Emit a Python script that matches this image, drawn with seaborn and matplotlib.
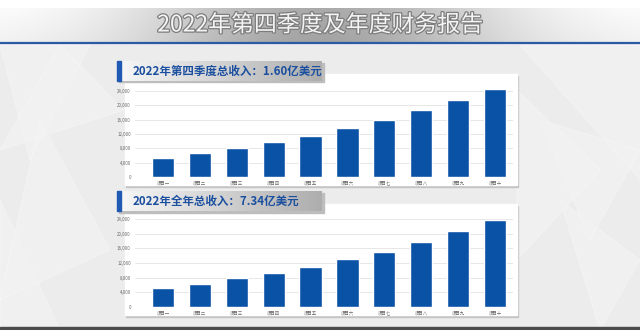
import numpy as np
import matplotlib
matplotlib.use("Agg")
import matplotlib.pyplot as plt
import matplotlib.patheffects as pe
from matplotlib.patches import Rectangle, Polygon
import seaborn as sns

# ---------------- data ----------------
main_title = "2022年第四季度及年度财务报告"
q4_title = "2022年第四季度总收入：1.60亿美元"
year_title = "2022年全年总收入：7.34亿美元"
categories = ["项目一", "项目二", "项目三", "项目四", "项目五",
              "项目六", "项目七", "项目八", "项目九", "项目十"]
q4_values = [5300, 6700, 8200, 9700, 11500, 13700, 15800, 18600, 21400, 24650]
year_values = [5030, 6320, 7780, 9150, 10890, 13000, 15100, 17670, 20690, 23710]
y_ticks = [0, 4000, 8000, 12000, 16000, 20000, 24000]

BAR = "#0a52a6"
W, H = 640, 330

sns.set_style("white")
plt.rcParams["font.family"] = ["Noto Sans CJK SC", "DejaVu Sans"]

fig = plt.figure(figsize=(W / 100, H / 100), dpi=100)
bg = fig.add_axes([0, 0, 1, 1])
bg.set_xlim(0, W)
bg.set_ylim(H, 0)
bg.axis("off")
bg.set_zorder(0)

# background
bg.add_patch(Rectangle((0, 0), W, H, color="#ececec", zorder=0))
tris = [
    [(0, 45), (90, 45), (30, 160)], [(520, 45), (640, 45), (640, 180)],
    [(0, 200), (60, 330), (0, 330)], [(560, 200), (640, 260), (600, 330)],
    [(40, 120), (110, 250), (0, 300)], [(540, 120), (640, 150), (590, 240)],
    [(60, 45), (124, 110), (0, 150)], [(517, 90), (600, 170), (517, 260)],
]
for t in tris:
    bg.add_patch(Polygon(t, closed=True, facecolor="#f3f3f3", edgecolor="#fafafa",
                         lw=0.5, alpha=0.6, zorder=1))

# header band
bg.add_patch(Rectangle((0, 0), W, 8, color="white", zorder=2))
xs = np.linspace(0, 1, 400)
prof = 1 - 0.33 * np.exp(-((xs - 0.5) / 0.28) ** 2)
ys = np.linspace(0, 1, 40)[:, None]
grad = prof[None, :] * (1 - 0.04 * ys)
bg.imshow(np.dstack([grad, grad, grad]), extent=(0, W, 42, 8), aspect="auto",
          zorder=2, interpolation="bilinear")
bg.plot([0, W], [42.8, 42.8], color="#2a5aa3", lw=1.6, zorder=3)
bg.text(W / 2, 25, main_title, ha="center", va="center", fontsize=16.5,
        color="#f4f4f4", zorder=4,
        path_effects=[pe.withStroke(linewidth=1.8, foreground="#7d7d7d")])
bg.add_patch(Rectangle((0, 326.5), W, 4, color="#4b4b4b", zorder=3))

# panels and label boxes
def panel(top, bottom):
    bg.add_patch(Rectangle((125.5, top + 1.5), 392, bottom - top, color="#c4c4c4", zorder=3))
    bg.add_patch(Rectangle((124.5, top), 392, bottom - top, color="white", zorder=4))

def label_box(top, bottom, text):
    bg.add_patch(Rectangle((118.5, top + 1.5), 205, bottom - top, color="#bdbdbd", zorder=5))
    g = np.linspace(0.97, 0.68, 300)
    gv = np.ones((10, 1)) * g[None, :]
    bg.imshow(np.dstack([gv, gv, gv]), extent=(117, 321.6, bottom, top), aspect="auto",
              zorder=6, interpolation="bilinear")
    bg.add_patch(Rectangle((117, top), 4, bottom - top, color="#1f59b3", zorder=7))
    bg.text(133, (top + bottom) / 2, text, ha="left", va="center", fontsize=8.3,
            color="#1b4f9f", fontweight="bold", zorder=8)

panel(74, 185)
panel(204, 315)
label_box(61, 80.7, q4_title)
label_box(191, 211, year_title)

bg.set_xlim(0, W)
bg.set_ylim(H, 0)

# chart axes
def make_ax(left, right, bottom, top, px_per_step, cats, vals):
    ax = fig.add_axes([left / W, 1 - bottom / H, (right - left) / W, (bottom - top) / H])
    ax.set_zorder(2)
    ax.patch.set_alpha(0)
    sns.barplot(x=cats, y=vals, color=BAR, saturation=1, width=0.6, ax=ax, zorder=3)
    ax.set_ylim(0, (bottom - top) / px_per_step * 4000)
    spacing = 36.9
    ax.set_xlim((left - 163) / spacing, 9 + (right - 495) / spacing)
    ax.set_yticks(y_ticks)
    ax.set_yticklabels([f"{v:,}" for v in y_ticks])
    ax.yaxis.grid(True, color="#e3e3e3", lw=0.6, zorder=0)
    ax.set_axisbelow(True)
    for s in ax.spines.values():
        s.set_visible(False)
    ax.tick_params(axis="both", length=0, labelsize=3.2, colors="#6a6a6a", pad=3)
    ax.tick_params(axis="x", pad=2.5)
    ax.set_xlabel("")
    ax.set_ylabel("")
    return ax

make_ax(135, 512.7, 177, 84, 14.33, categories, q4_values)
make_ax(135, 512.7, 306.7, 214, 14.57, categories, year_values)

fig.savefig("out.png", dpi=100)
